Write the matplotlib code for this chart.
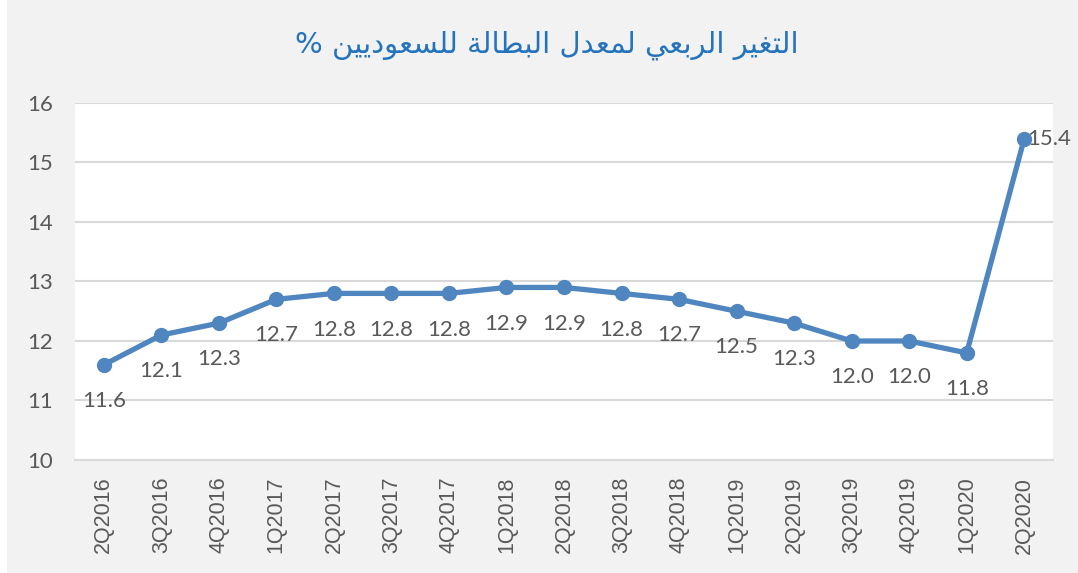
"""
Quarterly Saudi unemployment rate line chart.
"""

import matplotlib

matplotlib.use("Agg")
import matplotlib.pyplot as plt
from matplotlib.patches import Rectangle

QUARTERS = ["2Q2016", "3Q2016", "4Q2016", "1Q2017", "2Q2017", "3Q2017", "4Q2017",
            "1Q2018", "2Q2018", "3Q2018", "4Q2018", "1Q2019", "2Q2019", "3Q2019",
            "4Q2019", "1Q2020", "2Q2020"]
RATES = [11.6, 12.1, 12.3, 12.7, 12.8, 12.8, 12.8, 12.9, 12.9, 12.8, 12.7,
         12.5, 12.3, 12.0, 12.0, 11.8, 15.4]
Y_TICKS = [10, 11, 12, 13, 14, 15, 16]
TITLE = "التغير الربعي لمعدل البطالة للسعوديين %"

LINE_COLOR = "#4f86c0"
TITLE_COLOR = "#2373bd"
TEXT_COLOR = "#595959"
GRID_COLOR = "#d9d9d9"

# presentation forms: isolated, final, initial, medial
FORMS = {
    "ا": ("\ufe8d", "\ufe8e"),
    "ب": ("\ufe8f", "\ufe90", "\ufe91", "\ufe92"),
    "ة": ("\ufe93", "\ufe94"),
    "ت": ("\ufe95", "\ufe96", "\ufe97", "\ufe98"),
    "د": ("\ufea9", "\ufeaa"),
    "ر": ("\ufead", "\ufeae"),
    "س": ("\ufeb1", "\ufeb2", "\ufeb3", "\ufeb4"),
    "ط": ("\ufec1", "\ufec2", "\ufec3", "\ufec4"),
    "ع": ("\ufec9", "\ufeca", "\ufecb", "\ufecc"),
    "غ": ("\ufecd", "\ufece", "\ufecf", "\ufed0"),
    "ل": ("\ufedd", "\ufede", "\ufedf", "\ufee0"),
    "م": ("\ufee1", "\ufee2", "\ufee3", "\ufee4"),
    "ن": ("\ufee5", "\ufee6", "\ufee7", "\ufee8"),
    "و": ("\ufeed", "\ufeee"),
    "ي": ("\ufef1", "\ufef2", "\ufef3", "\ufef4"),
}


def shape_arabic(text):
    """Minimal contextual shaping + visual (RTL) ordering, matplotlib has no bidi."""
    out = []
    for i, c in enumerate(text):
        if c not in FORMS:
            out.append(c)
            continue
        dual = len(FORMS[c]) == 4
        prev_j = i > 0 and text[i - 1] in FORMS and len(FORMS[text[i - 1]]) == 4
        next_j = dual and i + 1 < len(text) and text[i + 1] in FORMS
        if prev_j and next_j:
            out.append(FORMS[c][3])
        elif prev_j:
            out.append(FORMS[c][1])
        elif next_j:
            out.append(FORMS[c][2])
        else:
            out.append(FORMS[c][0])
    return "".join(reversed(out))


fig = plt.figure(figsize=(10.78, 5.73), dpi=100, facecolor="white")
fig.patches.append(Rectangle((7 / 1078, 0), 1, 1, transform=fig.transFigure,
                             facecolor="#f2f2f2", edgecolor="none", zorder=-1))
ax = fig.add_axes([75 / 1078, 1 - 460 / 573, 978 / 1078, 357 / 573])
ax.set_facecolor("white")

x = list(range(len(QUARTERS)))
ax.plot(x, RATES, color=LINE_COLOR, linewidth=3.8, marker="o", markersize=10,
        solid_capstyle="round", zorder=3, clip_on=False)

for i, v in enumerate(RATES):
    if i == len(RATES) - 1:
        ax.annotate(f"{v:.1f}", (i, v), xytext=(2, 0), textcoords="offset points",
                    ha="left", va="center", fontsize=16, color=TEXT_COLOR,
                    family="Lato")
    else:
        ax.annotate(f"{v:.1f}", (i, v), xytext=(0, -26), textcoords="offset points",
                    ha="center", va="center", fontsize=16, color=TEXT_COLOR,
                    family="Lato")

ax.set_xlim(-0.5, len(QUARTERS) - 0.5)
ax.set_ylim(Y_TICKS[0], Y_TICKS[-1])
ax.set_yticks(Y_TICKS)
ax.set_yticklabels([str(t) for t in Y_TICKS], fontsize=16, color=TEXT_COLOR,
                   family="Lato")
ax.set_xticks(x)
ax.set_xticklabels(QUARTERS, rotation=90, fontsize=15.5, color=TEXT_COLOR,
                   family="Liberation Sans")
ax.tick_params(axis="both", length=0)
ax.tick_params(axis="y", pad=16)
ax.tick_params(axis="x", pad=12)

ax.grid(axis="y", color=GRID_COLOR, linewidth=1.5)
ax.set_axisbelow(True)
for s in ["top", "right", "left"]:
    ax.spines[s].set_visible(False)
ax.spines["bottom"].set_color(GRID_COLOR)
ax.spines["bottom"].set_linewidth(1.5)

fig.text(547 / 1078, 1 - 45 / 573, shape_arabic(TITLE), ha="center", va="center",
         fontsize=21, color=TITLE_COLOR, family=["DejaVu Sans"])

fig.savefig("out.png", dpi=100, facecolor=fig.get_facecolor())
